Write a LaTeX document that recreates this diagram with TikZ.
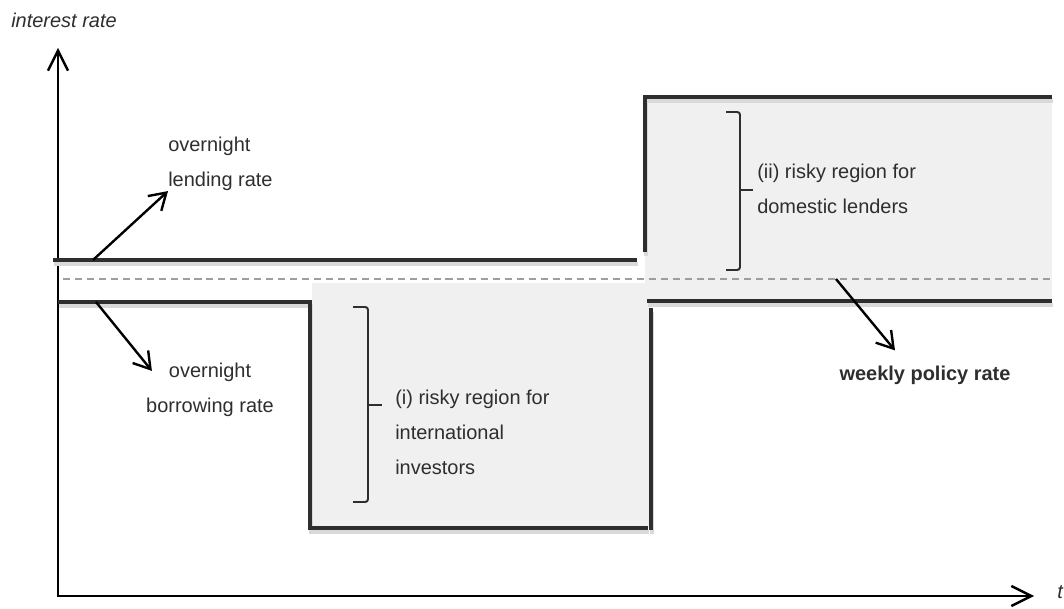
\documentclass[tikz,border=0pt]{standalone}
\usepackage{fontspec}
\setmainfont{Liberation Sans}
\usetikzlibrary{arrows.meta}
\definecolor{rateclr}{gray}{0.18}
\definecolor{regionclr}{gray}{0.94}
\definecolor{dashclr}{gray}{0.62}
\newcommand\ratetextstyle{\fontsize{14.2}{24.9}\selectfont}
\newcommand\rateline[1]{
  \draw[rateshadow] #1 ;
  \draw[ratepath] #1 ;
}
\begin{document}
\begin{tikzpicture}[x=0.025cm, y=-0.025cm,
    ratepath/.style={line width=3pt, rateclr},
    rateshadow/.style={line width=3.5pt, black!15, shift={(1,4)}},
    axisline/.style={line width=1.7pt, {Straight Barb[length=5mm,width=5mm]}-{Straight Barb[length=5mm,width=5mm]}},
    ptr/.style={line width=1.7pt, -{Straight Barb[length=4mm,width=5mm]}},
    bracket/.style={line width=1.4pt, rateclr, rounded corners=2pt},
    lbl/.style={inner sep=0pt, text=rateclr, font=\ratetextstyle}]
  \useasboundingbox (0,0) rectangle (1064,609);
  % shaded regions
  \fill[regionclr] (312,283) rectangle (650,528);
  \fill[regionclr] (645,97) rectangle (1052,302);
  % axes
  \coordinate (ytop) at (58,48);
  \coordinate (xend) at (1034,596);
  \draw[axisline] (ytop) |- (xend);
  \node[lbl, font=\ratetextstyle\itshape] (ylbl) at (64,20) {interest rate};
  \node[lbl, font=\ratetextstyle\itshape, anchor=west] (xlbl) at (1057,592) {t};
  % policy rate and corridor
  \draw[dashclr, line width=2pt, dash pattern=on 5pt off 3.5pt] (63,279) -- (1052,279);
  \rateline{(53,260) -- (637,260)}
  \rateline{(645,252) -- (645,97) -- (1052,97)}
  \rateline{(58,302) -- (310,302) -- (310,528) -- (648,528)}
  \rateline{(651,530) -- (651,308)}
  \rateline{(647,301) -- (1052,301)}
  % brackets
  \draw[bracket] (353,307) -| (368,405) |- (353,502);
  \draw[bracket, line width=2pt] (368,405) -- (382,405);
  \draw[bracket] (726,112) -| (740,190) |- (726,270);
  \draw[bracket, line width=2pt] (740,190) -- (753,190);
  % labels
  \node[lbl, anchor=west, align=left] (lendtxt) at (168,164) {overnight\\lending rate};
  \node[lbl, align=center] (borrowtxt) at (210,390) {overnight\\borrowing rate};
  \node[lbl, anchor=west, align=left] (riskitxt) at (395,432) {(i) risky region for\\international\\investors};
  \node[lbl, anchor=west, align=left] (riskiitxt) at (757,189) {(ii) risky region for\\domestic lenders};
  \node[lbl, font=\ratetextstyle\bfseries] (policytxt) at (925,375) {weekly policy rate};
  % pointers
  \coordinate (lendfoot) at (93,260);
  \coordinate (borrowfoot) at (96,302);
  \coordinate (policyfoot) at (836,279);
  \draw[ptr] (lendfoot) -- (lendtxt.south west);
  \draw[ptr] (borrowfoot) -- ([shift={(6,8)}]borrowtxt.north west);
  \draw[ptr] (policyfoot) -- ([shift={(-30,-15)}]policytxt.north);
\end{tikzpicture}
\end{document}
